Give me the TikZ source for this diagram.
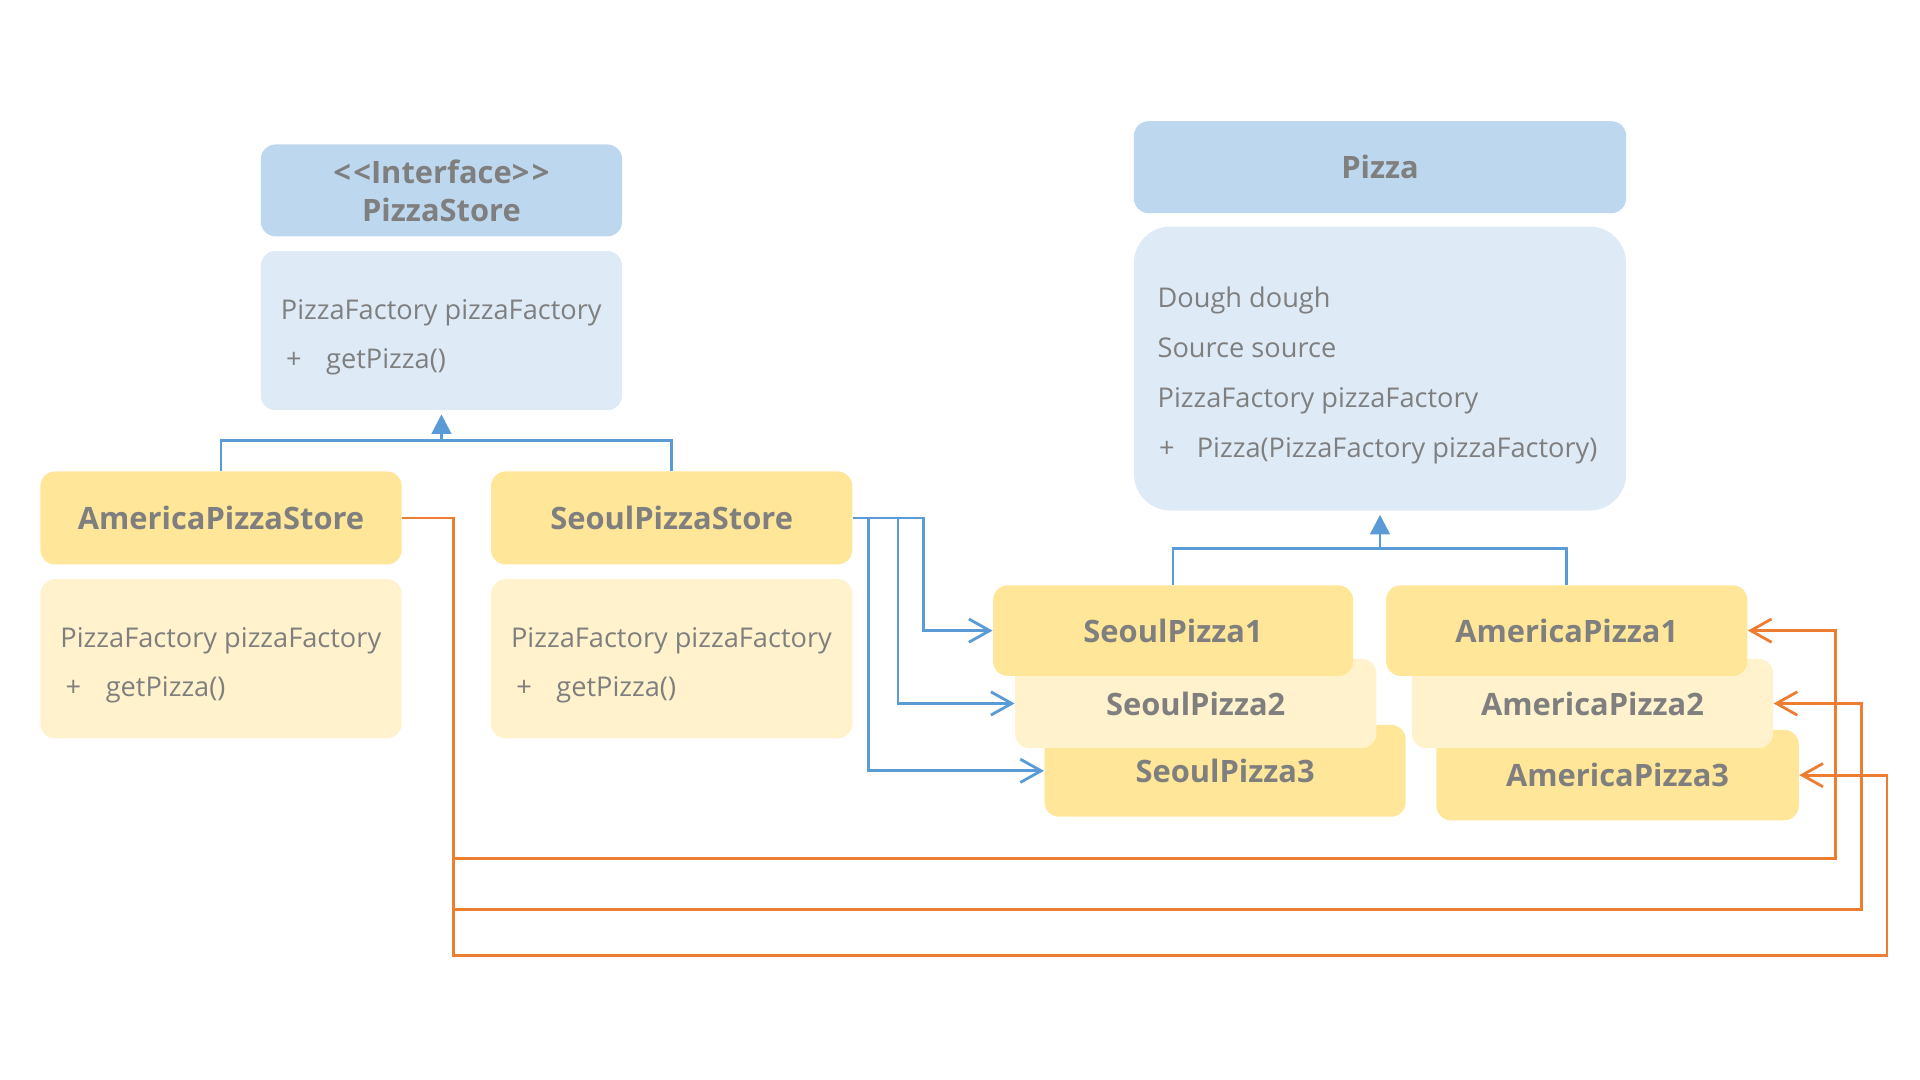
\documentclass[tikz,border=0pt]{standalone}
\usepackage{fontspec}
\setmainfont{Open Sans}
\usetikzlibrary{arrows.meta}
\definecolor{hdrblue}{HTML}{BDD7EE}
\definecolor{bodyblue}{HTML}{DEEBF7}
\definecolor{hdryel}{HTML}{FFE699}
\definecolor{bodyyel}{HTML}{FFF2CC}
\definecolor{txtgray}{HTML}{7F7F7F}
\definecolor{lineblue}{HTML}{5B9BD5}
\definecolor{lineorange}{HTML}{ED7D31}
\tikzset{
  boxbase/.style={inner sep=0pt, rounded corners=6pt, text=txtgray,
    font=\fontsize{12.6}{15.5}\selectfont\bfseries, align=center},
  bluehdr/.style={boxbase, fill=hdrblue},
  bluebody/.style={boxbase, fill=bodyblue},
  yelhdr/.style={boxbase, fill=hdryel},
  yelbody/.style={boxbase, fill=bodyyel},
  bodytext/.style={inner sep=0pt, text=txtgray, font=\fontsize{11.1}{13}\selectfont},
  conn/.style={line width=1.15pt},
  blueconn/.style={conn, draw=lineblue},
  orangeconn/.style={conn, draw=lineorange},
  inherit/.style={blueconn, -{Triangle[length=8pt,width=8pt]}, fill=lineblue},
  openarrow/.style={-{Straight Barb[length=8.5pt,width=9.5pt,line width=1.15pt]}},
}
\begin{document}
\begin{tikzpicture}[x=0.5pt,y=-0.5pt]
\useasboundingbox (0,0) rectangle (1568,882);

% PizzaStore interface
\node[bluehdr, minimum width=147.5pt, minimum height=37.5pt] (ish) at (360.5,155.5)
  {<\kern1pt<Interface>\kern1pt>\\PizzaStore};
\node[bluebody, minimum width=147.5pt, minimum height=65pt] (isb) at (360.5,270) {};
\node[bodytext, anchor=base west] (isb1) at (229,261) {PizzaFactory pizzaFactory};
\node[bodytext, anchor=base] (isb2p) at (240,301) {+};
\node[bodytext, anchor=base west] (isb2) at (266,301) {getPizza()};

% Pizza
\node[bluehdr, minimum width=201pt, minimum height=37.5pt] (pzh) at (1127,136.5) {Pizza};
\node[bluebody, rounded corners=15pt, minimum width=201pt, minimum height=116pt] (pzb) at (1127,301) {};
\node[bodytext, anchor=base west] (pzb1) at (945,251) {Dough dough};
\node[bodytext, anchor=base west] (pzb2) at (945,292) {Source source};
\node[bodytext, anchor=base west] (pzb3) at (945,333) {PizzaFactory pizzaFactory};
\node[bodytext, anchor=base] (pzb4p) at (953,374) {+};
\node[bodytext, anchor=base west] (pzb4) at (977,374) {Pizza(PizzaFactory pizzaFactory)};

% AmericaPizzaStore
\node[yelhdr, minimum width=147.5pt, minimum height=38pt] (aps) at (180.5,423) {AmericaPizzaStore};
\node[yelbody, minimum width=147.5pt, minimum height=65pt] (apsb) at (180.5,538) {};
\node[bodytext, anchor=base west] (apsb1) at (49,529) {PizzaFactory pizzaFactory};
\node[bodytext, anchor=base] (apsb2p) at (60,569) {+};
\node[bodytext, anchor=base west] (apsb2) at (86,569) {getPizza()};

% SeoulPizzaStore
\node[yelhdr, minimum width=147.5pt, minimum height=38pt] (sps) at (548.5,423) {SeoulPizzaStore};
\node[yelbody, minimum width=147.5pt, minimum height=65pt] (spsb) at (548.5,538) {};
\node[bodytext, anchor=base west] (spsb1) at (417,529) {PizzaFactory pizzaFactory};
\node[bodytext, anchor=base] (spsb2p) at (428,569) {+};
\node[bodytext, anchor=base west] (spsb2) at (454,569) {getPizza()};

% Seoul pizzas
\node[yelhdr, minimum width=147.5pt, minimum height=37.5pt] (sp3) at (1000.5,629.5) {SeoulPizza3};
\node[yelbody, minimum width=147.5pt, minimum height=36.5pt] (sp2) at (976.5,574.5) {SeoulPizza2};
\node[yelhdr, minimum width=147pt, minimum height=37pt] (sp1) at (958,515) {SeoulPizza1};

% America pizzas
\node[yelhdr, minimum width=148pt, minimum height=37pt] (ap3) at (1321,633) {AmericaPizza3};
\node[yelbody, minimum width=147.5pt, minimum height=36.5pt] (ap2) at (1300.5,574.5) {AmericaPizza2};
\node[yelhdr, minimum width=147.5pt, minimum height=37pt] (ap1) at (1279.5,515) {AmericaPizza1};

% inheritance to PizzaStore
\coordinate (j1) at (360.5,360);
\draw[blueconn] (aps.north) |- (j1) -| (sps.north);
\draw[inherit, shorten >=1.5pt] (j1) -- (isb.south);

% inheritance to Pizza
\coordinate (j2) at (1127,448);
\draw[blueconn] (sp1.north) |- (j2) -| (ap1.north);
\draw[inherit, shorten >=1.5pt] (j2) -- (pzb.south);

% SeoulPizzaStore -> Seoul pizzas
\draw[blueconn, openarrow] (sps.east) -- ++(58,0) |- (sp1.west);
\draw[blueconn, openarrow] (sps.east) -- ++(37,0) |- (sp2.west);
\draw[blueconn, openarrow] (sps.east) -- ++(13,0) |- (sp3.west);

% AmericaPizzaStore -> America pizzas
\coordinate (o1) at (1499,701);
\coordinate (o2) at (1520,743);
\coordinate (o3) at (1541,780);
\draw[orangeconn, openarrow] (aps.east) -- ++(42,0) |- (o1) |- (ap1.east);
\draw[orangeconn, openarrow] (aps.east) -- ++(42,0) |- (o2) |- (ap2.east);
\draw[orangeconn, openarrow] (aps.east) -- ++(42,0) |- (o3) |- (ap3.east);
\end{tikzpicture}
\end{document}
